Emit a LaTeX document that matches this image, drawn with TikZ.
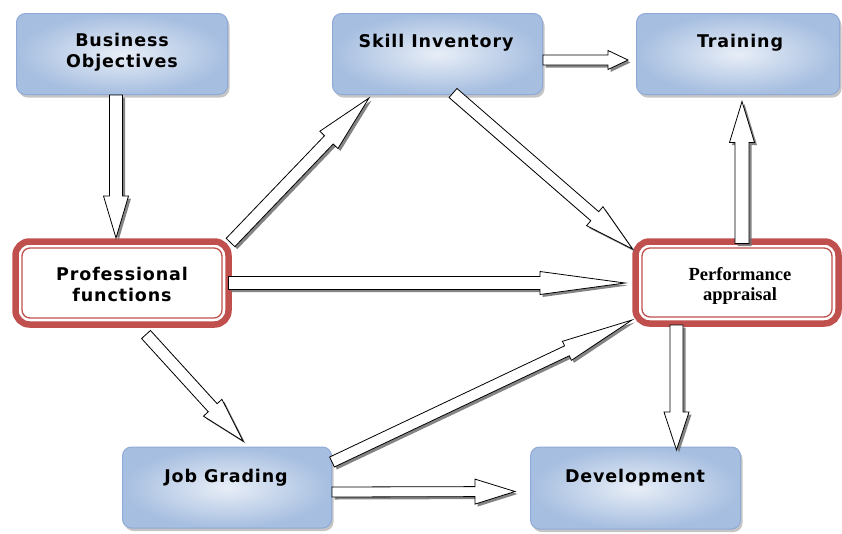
\documentclass[tikz,border=0pt]{standalone}
\usepackage{fontspec}
\newfontfamily\boxfont[LetterSpace=5]{DejaVu Sans}
\newfontfamily\apfont{Liberation Serif}
\usetikzlibrary{calc,shadows}

\definecolor{boxblue}{HTML}{A6BEE0}
\definecolor{boxlight}{HTML}{E8EEF7}
\definecolor{boxedge}{HTML}{8FAAD6}
\definecolor{framered}{HTML}{C0504D}
\definecolor{arrowgrey}{HTML}{6F6F6F}

\tikzset{
  bluebox/.style={rectangle, outer sep=0pt, rounded corners=9pt, draw=boxedge, line width=1pt,
    inner color=boxlight, outer color=boxblue,
    drop shadow={shadow xshift=2pt, shadow yshift=-3pt, fill=black!45}},
  redbox/.style={rectangle, outer sep=0pt, rounded corners=14pt, draw=framered, line width=6.5pt, fill=white},
  innerframe/.style={draw=framered, line width=1.3pt, rounded corners=8pt},
  boxlabel/.style={font=\boxfont\bfseries\fontsize{17.5}{21}\selectfont, align=center, inner sep=0pt},
  aplabel/.style={font=\apfont\bfseries\fontsize{18.5}{20}\selectfont, align=center, inner sep=0pt},
  arrowbody/.style={draw=black, line width=0.8pt, fill=white, line join=miter,
    preaction={fill=arrowgrey, opacity=0.85, transform canvas={shift={(2.5pt,-2.5pt)}}}},
}

% hollow block arrow: #1 tail, #2 tip, #3 half shaft width, #4 half head width, #5 head length
\newcommand\blockarrow[5]{%
  \coordinate (ba-h) at ($(#2)!#5!(#1)$);
  \draw[arrowbody] ($(#1)!#3!90:(#2)$) -- ($(ba-h)!#3!-90:(#1)$) -- ($(ba-h)!#4!-90:(#1)$)
    -- (#2) -- ($(ba-h)!#4!90:(#1)$) -- ($(ba-h)!#3!90:(#1)$) -- ($(#1)!#3!-90:(#2)$) -- cycle;
}

\begin{document}
\begin{tikzpicture}[x=1pt,y=-1pt]
\useasboundingbox (0,0) rectangle (842,533);

% boxes
\node[bluebox, minimum width=211pt, minimum height=81pt] (bo) at (122,54) {};
\node[bluebox, minimum width=210pt, minimum height=81pt] (si) at (437.5,54) {};
\node[bluebox, minimum width=203pt, minimum height=81pt] (tr) at (738,54) {};
\node[bluebox, minimum width=209pt, minimum height=81pt] (jg) at (227,487.5) {};
\node[bluebox, minimum width=210pt, minimum height=82pt] (dv) at (635.5,488) {};
\node[redbox, minimum width=213pt, minimum height=83pt] (pf) at (122,283) {};
\node[redbox, minimum width=203pt, minimum height=82pt] (pa) at (737,282.5) {};
\draw[innerframe] ($(pf.north west)+(6.5,6.5)$) rectangle ($(pf.south east)+(-6.5,-6.5)$);
\draw[innerframe] ($(pa.north west)+(6.5,6.5)$) rectangle ($(pa.south east)+(-6.5,-6.5)$);

% labels
\node[boxlabel] (bo-t) at (122,52.3) {Business\\Objectives};
\node[boxlabel, anchor=base] (si-t) at (436,47) {Skill Inventory};
\node[boxlabel, anchor=base] (tr-t) at (740,47) {Training};
\node[boxlabel, anchor=base] (jg-t) at (226,482.5) {Job Grading};
\node[boxlabel, anchor=base] (dv-t) at (635,482) {Development};
\node[boxlabel] (pf-t) at (122,284.5) {Professional\\functions};
\node[aplabel] (pa-t) at (740,285.5) {Performance\\appraisal};

% connector ends
\coordinate (bo-out) at ($(bo.south)+(-6,0.5)$);
\coordinate (pf-in) at ($(pf.north)+(-6,-3.5)$);
\coordinate (pf-ne) at ($(pf.north east)+(2,1)$);
\coordinate (si-in) at ($(si.south)+(-68.5,3.5)$);
\coordinate (si-e) at ($(si.east)+(0.5,6)$);
\coordinate (tr-w) at ($(tr.west)+(-8.5,6)$);
\coordinate (si-se) at ($(si.south)+(15.5,-1.5)$);
\coordinate (pa-nw) at ($(pa.north west)+(-3,7.5)$);
\coordinate (pf-e) at ($(pf.east)+(0,0)$);
\coordinate (pa-w) at ($(pa.west)+(-10.5,0.5)$);
\coordinate (pa-n) at ($(pa.north)+(5,2)$);
\coordinate (tr-s) at ($(tr.south)+(4,7)$);
\coordinate (pa-s) at ($(pa.south)+(-60.5,1.5)$);
\coordinate (dv-n) at ($(dv.north)+(41,3)$);
\coordinate (pf-s) at ($(pf.south)+(24,10)$);
\coordinate (jg-n) at ($(jg.north)+(16,-6)$);
\coordinate (jg-ne) at ($(jg.north east)+(0.5,15)$);
\coordinate (pa-sw) at ($(pa.south west)+(-3.5,-3.5)$);
\coordinate (jg-e) at ($(jg.east)+(0.5,4.5)$);
\coordinate (dv-w) at ($(dv.west)+(-15.5,3.5)$);

% connectors
\blockarrow{bo-out}{pf-in}{6.5pt}{12.5pt}{42pt}
\blockarrow{pf-ne}{si-in}{6pt}{12.5pt}{58pt}
\blockarrow{si-e}{tr-w}{5pt}{9.5pt}{20pt}
\blockarrow{si-se}{pa-nw}{6pt}{12.5pt}{50pt}
\blockarrow{pf-e}{pa-w}{6.5pt}{11.5pt}{85pt}
\blockarrow{pa-n}{tr-s}{7pt}{12.5pt}{41pt}
\blockarrow{pa-s}{dv-n}{6.5pt}{12.5pt}{38pt}
\blockarrow{pf-s}{jg-n}{6pt}{12.5pt}{45pt}
\blockarrow{jg-ne}{pa-sw}{5.5pt}{10.5pt}{72pt}
\blockarrow{jg-e}{dv-w}{5pt}{12.5pt}{40pt}
\end{tikzpicture}
\end{document}
